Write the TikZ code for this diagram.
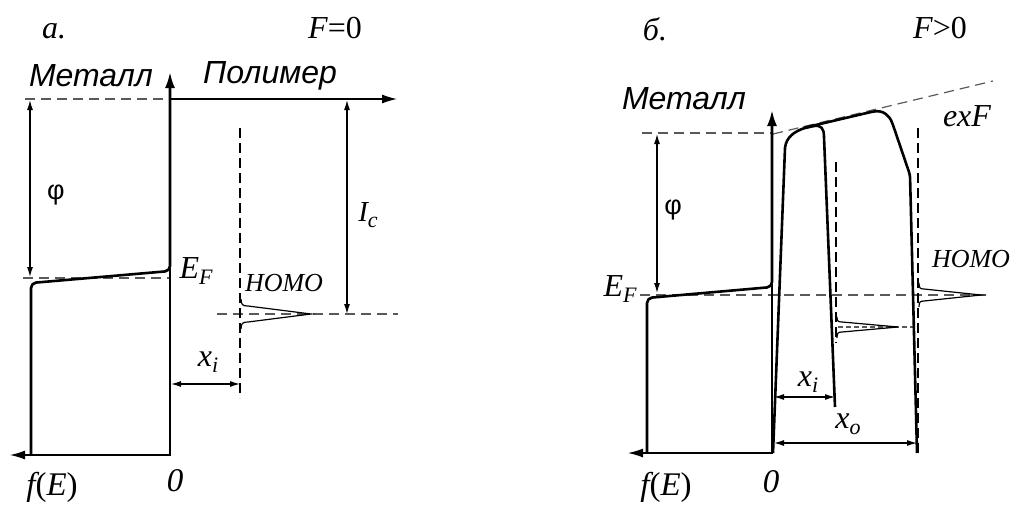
\documentclass[tikz,border=0pt]{standalone}
\usepackage{fontspec}
\setmainfont{Liberation Serif}
\newfontfamily\arialf{Liberation Sans}
\usetikzlibrary{arrows.meta}
\newcommand{\lsub}[1]{{\fontsize{22}{22}\selectfont\raisebox{-0.28em}{#1}}}
\tikzset{
  thickc/.style={line width=2.6pt, line join=round},
  thinl/.style={line width=1.2pt},
  hdash/.style={line width=1.2pt, black!65, dash pattern=on 10pt off 6pt},
  vdash/.style={line width=1.1pt, black, dash pattern=on 10pt off 5pt},
  sdash/.style={line width=1.1pt, black!65, dash pattern=on 5pt off 3pt},
  dimarr/.style={thinl, {Latex[length=10pt,width=6pt]}-{Latex[length=10pt,width=6pt]}},
  lbl/.style={inner sep=0pt, font=\fontsize{32}{38}\selectfont\itshape},
  slbl/.style={inner sep=0pt, font=\fontsize{32}{38}\selectfont\arialf\itshape},
  phil/.style={inner sep=0pt, font=\fontsize{27}{32}\selectfont\arialf},
  homol/.style={inner sep=0pt, font=\fontsize{26}{30}\selectfont\itshape},
}
\begin{document}
\begin{tikzpicture}[x=1pt,y=-1pt]
\useasboundingbox (0,0) rectangle (1011,506);
% ================= panel a =================
\coordinate (aTop) at (170,72);
\coordinate (aBot) at (170,455);
\coordinate (aFEnd) at (10,455);
\coordinate (aXEnd) at (397,99);
\draw[hdash] (25,99) -- (170,99);
\draw[hdash] (23,278) -- (170,278);
\draw[hdash] (217,314) -- (398,314);
\draw[vdash] (240,128) -- (240,398);
\draw[thinl, -{Latex[length=15pt,width=9pt]}] (170,268) -- (aBot) -- (aFEnd);
\draw[thinl, -{Latex[length=15pt,width=9pt]}] (170,99) -- (aXEnd);
\draw[thickc, rounded corners=5pt, {Latex[length=16pt,width=10pt]}-] (aTop) -- (170,271) -- (31,283) -- (31,455);
% HOMO peak
\draw[thinl] (241,299) .. controls (241,305) and (243,306) .. (248,306) -- (311,314) -- (248,322) .. controls (243,322) and (241,323) .. (241,329);
% dimension arrows
\coordinate (aPhiT) at (30,100); \coordinate (aPhiB) at (30,277);
\draw[dimarr] (aPhiT) -- (aPhiB);
\coordinate (aIcT) at (347,100); \coordinate (aIcB) at (347,314);
\draw[dimarr] (aIcT) -- (aIcB);
\coordinate (aXiL) at (171,384); \coordinate (aXiR) at (240,384);
\draw[dimarr] (aXiL) -- (aXiR);
% labels
\node[lbl] (la) at (54,31) {а.};
\node[lbl] (lF0) at (335,28) {F\upshape=0};
\node[slbl] (lMetA) at (91,76) {Металл};
\node[slbl] (lPol) at (270,76) {Полимер};
\node[phil] (lPhiA) at (56,195) {φ};
\node[lbl, font=\fontsize{29}{34}\selectfont\itshape] (lIc) at (368,215) {I\lsub{c}};
\node[lbl] (lEFa) at (196,271) {E\lsub{F}};
\node[homol] (lHa) at (284,283) {HOMO};
\node[lbl] (lXia) at (208,362) {x\lsub{i}};
\node[lbl, font=\fontsize{33}{38}\selectfont\itshape] (lfa) at (52,487) {f\upshape(\itshape E\upshape)};
\node[lbl, font=\fontsize{33}{38}\selectfont\itshape] (l0a) at (175,481) {0};
% ================= panel b =================
\coordinate (bTop) at (772,110);
\coordinate (bBot) at (772,453);
\coordinate (bFEnd) at (628,453);
\draw[hdash] (642,133) -- (772,133);
\draw[hdash] (640,295) -- (992,295);
\draw[hdash] (773,134) -- (993,81);
\draw[vdash] (836,162) -- (836,343);
\draw[vdash] (918,128) -- (918,453);
\draw[sdash] (838,327) -- (918,327);
\draw[thinl, -{Latex[length=15pt,width=9pt]}] (772,284) -- (bBot) -- (bFEnd);
\draw[thickc, rounded corners=5pt, {Latex[length=16pt,width=10pt]}-] (bTop) -- (772,287) -- (647,298) -- (647,453);
% inner barrier
\draw[thickc] (773,453) -- (785,148) .. controls (786,137) and (795,131) .. (805,128) -- (814,126) .. controls (821,125) and (824,128) .. (824,137) -- (835,407);
% outer barrier
\draw[thickc, rounded corners=3pt] (803,128) -- (871,112) .. controls (883,110) and (889,115) .. (893,125) -- (910,175) -- (917,453);
% HOMO peaks
\draw[thinl] (837,317) .. controls (837,321) and (838,322) .. (842,322) -- (898,327) -- (842,332) .. controls (838,332) and (837,333) .. (837,338);
\draw[thinl] (919,283) .. controls (919,288) and (920,289) .. (924,289) -- (981,295) -- (924,301) .. controls (920,301) and (919,302) .. (919,307);
% dimension arrows
\coordinate (bPhiT) at (657,134); \coordinate (bPhiB) at (657,293);
\draw[dimarr] (bPhiT) -- (bPhiB);
\coordinate (bXiL) at (774,397); \coordinate (bXiR) at (835,397);
\draw[dimarr] (bXiL) -- (bXiR);
\coordinate (bXoL) at (774,443); \coordinate (bXoR) at (917,443);
\draw[dimarr] (bXoL) -- (bXoR);
% labels
\node[lbl] (lb) at (655,29) {б.};
\node[lbl] (lFp) at (940,28) {F\upshape>0};
\node[slbl] (lMetB) at (684,99) {Металл};
\node[phil] (lPhiB) at (673,210) {φ};
\node[lbl] (lEFb) at (620,289) {E\lsub{F}};
\node[lbl] (lexF) at (967,116) {exF};
\node[homol] (lHb) at (971,259) {HOMO};
\node[lbl] (lXib) at (808,382) {x\lsub{i}};
\node[lbl] (lXob) at (848,424) {x\lsub{o}};
\node[lbl, font=\fontsize{33}{38}\selectfont\itshape] (lfb) at (666,487) {f\upshape(\itshape E\upshape)};
\node[lbl, font=\fontsize{33}{38}\selectfont\itshape] (l0b) at (771,482) {0};
\end{tikzpicture}
\end{document}
